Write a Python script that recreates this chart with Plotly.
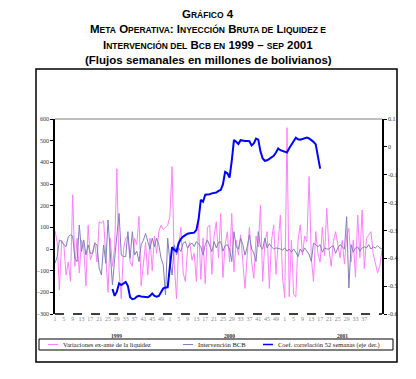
import plotly.graph_objects as go

# ---------------- data ----------------
weeks_1999 = list(range(1, 53))
weeks_2000 = list(range(1, 53))
weeks_2001 = list(range(1, 46))
week_labels = [str(w) for w in weeks_1999 + weeks_2000 + weeks_2001]
idx = list(range(len(week_labels)))

variaciones = [85, 30, -190, 40, 20, -120, -60, -150, 250, -80, 50, -110, 40, 10, -170, 110, -50, -20, 30, -60,
               125, 120, 130, -30, -200, 50, -80, 10, 370, -100, -230, 0, 50, 60, -60, -80, 50, 20, 150, -170,
               -50, 30, -120, 50, -100, 60, -20, 80, 110, 90, 100, 110, 150, 380, -70, -230, 20, 100, -110, -150,
               0, 30, -50, -20, -150, 120, -140, 50, -160, 100, 111, -117, 60, 126, -40, 164, -132, 20, 80, -60,
               164, -105, 40, -28, 65, -60, -182, -28, 100, -60, -135, 60, 10, 203, -150, 34, 80, -182, 40, 111,
               -117, 30, 157, -132, -225, 560, -220, 40, -210, -222, 40, 111, -28, 60, 34, 334, -40, -150, 80, -20,
               -60, 100, -30, 188, 0, -80, 34, 80, 20, -40, 40, -70, 60, 95, -60, 41, -130, 157, -40, 180,
               -90, 50, 65, 80, -20, -60, -110, -80, -5]

intervencion = [-66, -35, 42, 34, 20, 11, 57, 65, 60, -43, -58, 111, -12, 42, -28, 19, -20, -20, 27, 19,
                -89, -120, 19, -66, 134, -28, -166, -43, 60, 164, -28, -35, -35, 80, -43, 80, -28, -10, -58, 19,
                40, 72, 34, 0, 50, 11, 50, 20, -43, -74, -212, 50, -58, -120, 19, -28, 4, -12, 27, 34,
                4, 20, 27, 11, 34, 20, 11, -28, 20, 42, 19, -12, 34, 5, 30, 34, -10, 15, 20, 0,
                -58, 80, 10, 0, 50, 20, -28, 10, 65, 0, -20, -58, 80, 10, 0, 50, 5, 25, 10, 0,
                5, 3, 0, -5, 5, -10, 0, -15, 0, -15, -35, 0, -15, 5, -10, -25, -58, 27, 20, 10,
                20, -15, 5, 0, 0, 10, 15, -20, 5, 20, 10, 0, 149, -180, 20, -15, 5, 10, -10, 5,
                10, 5, 20, 0, 10, 5, 15, 5, 0]

correlacion = [None] * 26 + [
    -0.51, -0.535, -0.52, -0.49, -0.496, -0.49, -0.485, -0.50, -0.54, -0.547,
    -0.545, -0.538, -0.535, -0.537, -0.538, -0.538, -0.54, -0.535, -0.526, -0.535,
    -0.538, -0.535, -0.52, -0.508, -0.505, -0.504, -0.43, -0.36, -0.37, -0.375,
    -0.345, -0.33, -0.322, -0.316, -0.312, -0.31, -0.309, -0.308, -0.298, -0.26,
    -0.19, -0.197, -0.172, -0.172, -0.17, -0.167, -0.165, -0.164, -0.158, -0.155,
    -0.135, -0.09, -0.095, -0.11, -0.05, 0.025, 0.018, 0.01, 0.024, 0.022,
    0.021, 0.021, 0.02, 0.005, 0.012, 0.03, 0.026, -0.017, -0.042, -0.05,
    -0.048, -0.043, -0.039, -0.032, -0.02, -0.006, -0.012, -0.015, -0.017, -0.02,
    -0.005, 0.01, 0.02, 0.033, 0.027, 0.026, 0.028, 0.031, 0.033, 0.03,
    0.025, 0.018, 0.009, -0.03, -0.078]
correlacion += [None] * (len(idx) - len(correlacion))

years = ["1999", "2000", "2001"]
year_pos = [28, 79, 130]

left_ticks = list(range(-300, 700, 100))
right_ticks = [0.1, 0, -0.1, -0.2, -0.3, -0.4, -0.5, -0.6]
right_labels = ["0.1", "0", "-0.1", "-0.2", "-0.3", "-0.4", "-0.5", "-0.6"]

tick_idx = [i for i in idx if (int(week_labels[i]) - 1) % 4 == 0 and not (i >= 104 and int(week_labels[i]) > 37)]
tick_txt = [week_labels[i] for i in tick_idx]

PINK = "#ff80ff"
PURPLE = "#8080b8"
BLUE = "#0000ff"
SERIF = "Liberation Serif"

fig = go.Figure()
fig.add_trace(go.Scatter(x=idx, y=variaciones, mode="lines", line=dict(color=PINK, width=1),
                         name="Variaciones ex-ante de la liquidez", showlegend=False))
fig.add_trace(go.Scatter(x=idx, y=intervencion, mode="lines", line=dict(color=PURPLE, width=1),
                         name="Intervención BCB", showlegend=False))
fig.add_trace(go.Scatter(x=idx, y=correlacion, mode="lines", line=dict(color=BLUE, width=2),
                         name="Coef. correlación 52 semanas (eje der.)", yaxis="y2", showlegend=False))

# page body has an 8px margin; figure is sized to fit inside the window
OFF = 8
W, H = 416 - 2 * OFF, 379 - 2 * OFF
# plot area in window coordinates
L, R, T, B = 55, 382, 119, 314
pw, ph = R - L, B - T


def px(x):
    return (x - L) / pw


def py(y):
    return (B - y) / ph


fig.update_layout(
    width=W, height=H,
    margin=dict(l=L - OFF, r=(416 - OFF) - R, t=T - OFF, b=(379 - OFF) - B),
    paper_bgcolor="white", plot_bgcolor="white",
    xaxis=dict(range=[0, len(idx) - 1], tickvals=tick_idx, ticktext=tick_txt, showgrid=False,
               zeroline=False, showline=False, ticks="",
               tickfont=dict(family=SERIF, size=6, color="#888888"), tickangle=0),
    yaxis=dict(range=[-300, 600], tickvals=left_ticks, showgrid=False, zeroline=False,
               showline=True, linecolor="black", linewidth=1.5, ticks="outside", ticklen=3,
               tickcolor="black", tickfont=dict(family=SERIF, size=6, color="#333333")),
    yaxis2=dict(range=[-0.6, 0.1], overlaying="y", side="right", tickvals=right_ticks,
                ticktext=right_labels, showgrid=False, zeroline=False, showline=True,
                linecolor="black", linewidth=1.5, ticks="outside", ticklen=3, tickcolor="black",
                tickfont=dict(family=SERIF, size=6, color="#333333")),
)

shapes = [
    dict(type="line", xref="paper", yref="paper", x0=0, x1=1, y0=1, y1=1,
         line=dict(color="#808080", width=1)),
    dict(type="line", xref="paper", yref="paper", x0=0, x1=1, y0=0, y1=0,
         line=dict(color="black", width=1.5, dash="dash")),
    dict(type="rect", xref="paper", yref="paper", x0=px(36), x1=px(397), y0=py(362), y1=py(69),
         line=dict(color="black", width=1.5)),
    dict(type="rect", xref="paper", yref="paper", x0=px(39), x1=px(393), y0=py(350), y1=py(339),
         line=dict(color="black", width=1)),
]
leg_y = py(344.5)
leg_items = [(48, 58, PINK, 1, "Variaciones ex-ante de la liquidez"),
             (183, 193, PURPLE, 1, "Intervención BCB"),
             (263, 273, BLUE, 1.5, "Coef. correlación 52 semanas (eje der.)")]
annotations = []
for x0, x1, c, w, t in leg_items:
    shapes.append(dict(type="line", xref="paper", yref="paper", x0=px(x0), x1=px(x1), y0=leg_y, y1=leg_y,
                       line=dict(color=c, width=w)))
    annotations.append(dict(xref="paper", yref="paper", x=px(x1 + 3), y=leg_y, text=t, showarrow=False,
                            xanchor="left", yanchor="middle",
                            font=dict(family=SERIF, size=6.5, color="#222222")))

for yr, pos in zip(years, year_pos):
    annotations.append(dict(xref="x", yref="paper", x=pos, y=py(336), text="<b>" + yr + "</b>",
                            showarrow=False, xanchor="center", yanchor="middle",
                            font=dict(family=SERIF, size=5.5, color="#333333")))

SC = "font-size:8.5px"
title_lines = [
    (14.5, f"<b>G<span style='{SC}'>RÁFICO</span> 4</b>"),
    (29, f"<b>M<span style='{SC}'>ETA</span> O<span style='{SC}'>PERATIVA</span>: "
         f"I<span style='{SC}'>NYECCIÓN</span> B<span style='{SC}'>RUTA DE</span> "
         f"L<span style='{SC}'>IQUIDEZ E</span></b>"),
    (44.5, f"<b>I<span style='{SC}'>NTERVENCIÓN DEL</span> B<span style='{SC}'>CB EN</span> 1999 – "
           f"<span style='{SC}'>SEP</span> 2001</b>"),
    (60, "<b>(Flujos semanales en millones de bolivianos)</b>"),
]
for yy, t in title_lines:
    annotations.append(dict(xref="paper", yref="paper", x=px(208), y=py(yy), text=t, showarrow=False,
                            xanchor="center", yanchor="middle",
                            font=dict(family="Liberation Sans", size=11.5, color="black")))

fig.update_layout(shapes=shapes, annotations=annotations)
fig.write_html("out.html")
